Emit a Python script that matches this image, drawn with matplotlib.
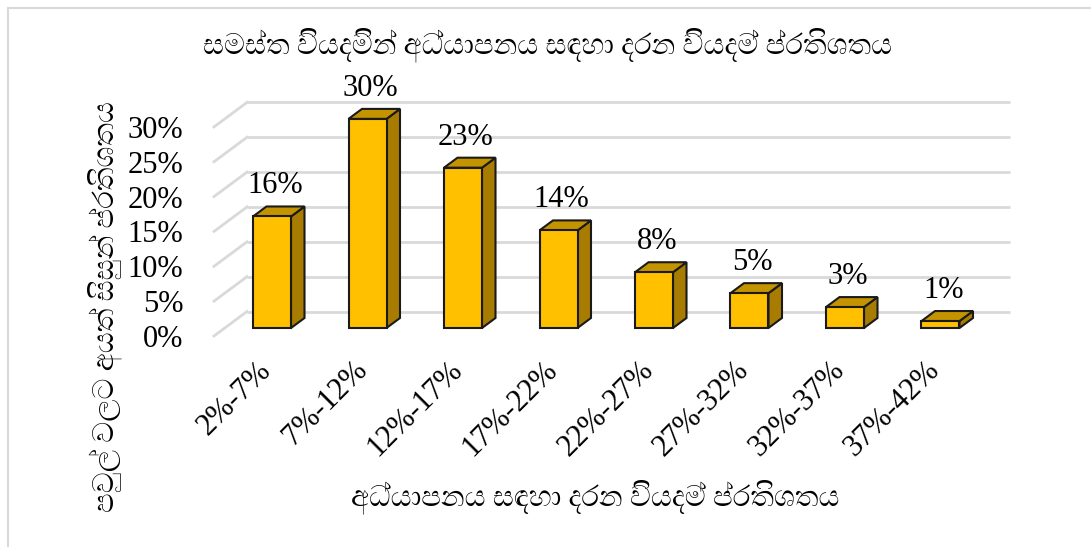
import matplotlib
matplotlib.use('Agg')
import matplotlib.pyplot as plt
from matplotlib.patches import Polygon, Rectangle
import numpy as np

# chart data
categories = ['2%-7%', '7%-12%', '12%-17%', '17%-22%',
              '22%-27%', '27%-32%', '32%-37%', '37%-42%']
values = [16, 30, 23, 14, 8, 5, 3, 1]
value_labels = ['16%', '30%', '23%', '14%', '8%', '5%', '3%', '1%']
y_ticks = [0, 5, 10, 15, 20, 25, 30]
y_tick_labels = ['0%', '5%', '10%', '15%', '20%', '25%', '30%']

# zero-width joiners are dropped: matplotlib draws them as empty boxes
title = 'සමස්ත වියදමින් අධ්යාපනය සඳහා දරන වියදම් ප්රතිශතය'
x_title = 'අධ්යාපනය සඳහා දරන වියදම් ප්රතිශතය'
y_title = 'පවුල් වලට අයත් සිසුන් ප්රතිශතය'

sin_family = ['FreeSerif', 'DejaVu Sans']
num_family = ['Liberation Serif', 'DejaVu Serif']

W, H = 1091, 547
fig = plt.figure(figsize=(W / 100, H / 100), dpi=100)

# pixel layout of the plot box (bar front plane)
px_left, px_right, px_top, px_bottom = 200, 1020, 90, 345
x0_px, step_px = 272, 95.5      # centre of first bar, bar spacing
y0_px, unit_px = 328, 6.97      # 0% baseline, pixels per 1%
ux, uy = 1 / step_px, 1 / unit_px

ax = fig.add_axes([px_left / W, 1 - px_bottom / H,
                   (px_right - px_left) / W, (px_bottom - px_top) / H])
ax.set_xlim((px_left - x0_px) * ux, (px_right - x0_px) * ux)
ax.set_ylim((y0_px - px_bottom) * uy, (y0_px - px_top) * uy)
for s in ax.spines.values():
    s.set_visible(False)

# gridlines: diagonal floor edge + back wall
fy = 8 * uy          # front edge sits 8px below bar front
by = -16.5 * uy      # back wall sits 16.5px above
x_front = (214 - x0_px) * ux
x_back = (247 - x0_px) * ux
x_end = (1010 - x0_px) * ux
for t in y_ticks:
    ax.plot([x_front, x_back], [t - fy, t - by], color='#d9d9d9', lw=2, zorder=1)
    ax.plot([x_back, x_end], [t - by, t - by], color='#d9d9d9', lw=2, zorder=1,
            solid_capstyle='butt')

# 3d-looking bars
w = 38 * ux
dx, dy = 13.5 * ux, 10 * uy
for i, v in enumerate(values):
    xl, xr = i - w / 2, i + w / 2
    ax.add_patch(Polygon([(xr, 0), (xr + dx, dy), (xr + dx, v + dy), (xr, v)],
                         closed=True, fc='#a77c00', ec='#1a1a1a', lw=1.5, zorder=3))
    ax.add_patch(Polygon([(xl, v), (xr, v), (xr + dx, v + dy), (xl + dx, v + dy)],
                         closed=True, fc='#c49300', ec='#1a1a1a', lw=1.5, zorder=3))
    ax.add_patch(Rectangle((xl, 0), w, v, fc='#ffc000', ec='#1a1a1a', lw=1.5, zorder=4))
    ax.text(i + 3 * ux, v + dy + 6 * uy, value_labels[i], ha='center', va='bottom',
            fontsize=22, family=num_family, zorder=5)

ax.set_yticks(np.array(y_ticks) - fy, labels=y_tick_labels, fontsize=22, family=num_family)
ax.set_xticks(np.arange(len(categories)) - 5 * ux, labels=categories)
for lab in ax.get_xticklabels():
    lab.set_rotation(45)
    lab.set_ha('right')
    lab.set_va('center')
    lab.set_rotation_mode('anchor')
    lab.set_fontsize(22)
    lab.set_family(num_family)
ax.tick_params(axis='y', length=0, pad=12)
ax.tick_params(axis='x', length=0, pad=15)

fig.text(548 / W, 1 - 45 / H, title, ha='center', va='center', fontsize=21, family=sin_family)
fig.text(595 / W, 1 - 497 / H, x_title, ha='center', va='center', fontsize=21, family=sin_family)
fig.text(105 / W, 1 - 307 / H, y_title, ha='center', va='center', rotation=90,
         fontsize=21, family=sin_family)

# light outer frame of the chart area
fig.add_artist(Rectangle((8 / W, -0.1), 1.2, 1 - 8 / H + 0.1, transform=fig.transFigure,
                         fill=False, ec='#d9d9d9', lw=1.5))

fig.savefig('out.png', dpi=100)
